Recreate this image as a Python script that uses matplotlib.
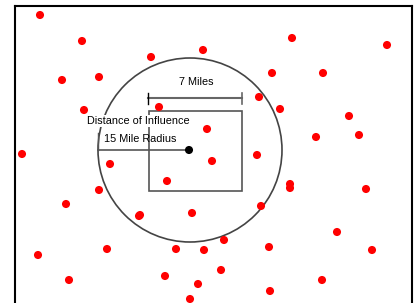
import matplotlib
matplotlib.use("Agg")
import matplotlib.pyplot as plt
from matplotlib.patches import Circle, Rectangle

# red sample points (pixel positions)
dot_x = [40, 82, 151, 203, 292, 387, 62, 99, 272, 323, 84, 159, 259, 280, 349,
         207, 359, 316, 22, 110, 212, 257, 290, 290, 366, 167, 99, 66, 139, 140,
         192, 261, 337, 107, 176, 204, 224, 269, 372, 38, 69, 165, 198, 221, 322,
         190, 270]
dot_y = [15, 41, 57, 50, 38, 45, 80, 77, 73, 73, 110, 107, 97, 109, 116,
         129, 135, 137, 154, 164, 161, 155, 184, 188, 189, 181, 190, 204, 216, 215,
         213, 206, 232, 249, 249, 250, 240, 247, 250, 255, 280, 276, 284, 270, 280,
         299, 291]

# well location and influence zone
center = (189, 150)
radius = 92
box = (149, 111, 93, 80)   # left, top, width, height
labels = ["7 Miles", "Distance of Influence", "15 Mile Radius"]

fig = plt.figure(figsize=(4.17, 3.03), dpi=100)
ax = fig.add_axes([0, 0, 1, 1])
ax.set_xlim(0, 417)
ax.set_ylim(303, 0)
ax.axis("off")

font = ["Liberation Sans", "DejaVu Sans"]

# frame
ax.plot([15.5, 15.5], [310, 6], color="black", lw=1.5)
ax.plot([15.5, 412], [6, 6], color="black", lw=1.5)
ax.plot([412, 412], [6, 310], color="black", lw=1.5)

# circle and square
ax.add_patch(Circle((center[0] + 1, center[1]), radius, fill=False, ec="#444444", lw=1.2))
ax.add_patch(Rectangle((box[0], box[1]), box[2], box[3], fill=False, ec="#555555", lw=1.2))

# 7 mile dimension
ax.plot([148, 242], [98, 98], color="#666666", lw=1.5)
ax.plot([148, 148], [93, 104], color="black", lw=1)
ax.plot([242, 242], [93, 104], color="#666666", lw=1.2)
ax.text(196, 82, labels[0], ha="center", va="center", fontsize=7.8, family=font)

# radius line
ax.plot([98, center[0]], [150, 150], color="#555555", lw=1.2)
ax.plot([98.5, 98.5], [133, 150], color="#555555", lw=1)

ax.scatter(dot_x, dot_y, s=34, color="red", edgecolors="none", zorder=3)
ax.scatter([center[0]], [center[1]], s=34, color="black", edgecolors="none", zorder=4)

ax.text(138, 121, labels[1], ha="center", va="center", fontsize=7.8, zorder=5,
        family=font, bbox=dict(facecolor="white", edgecolor="none", pad=0.5))
ax.text(140, 139, labels[2], ha="center", va="center", fontsize=7.8, zorder=5,
        family=font)

fig.savefig("out.png", dpi=100)
